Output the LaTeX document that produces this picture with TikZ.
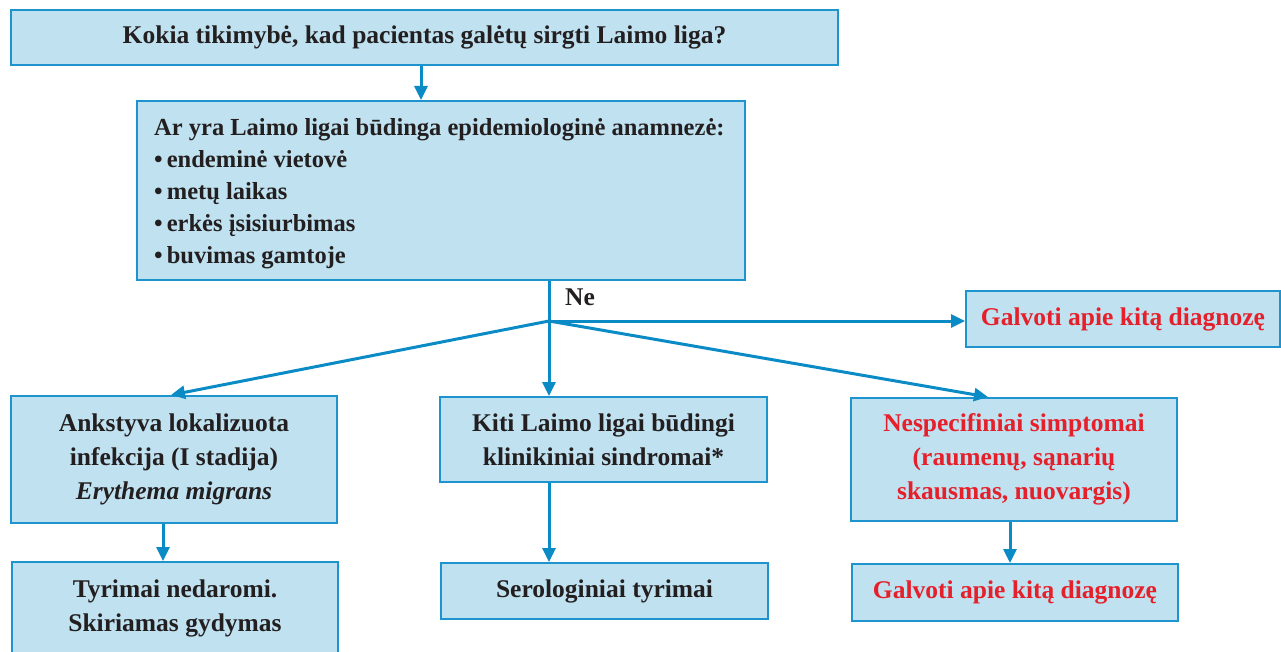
\documentclass[tikz,border=0pt]{standalone}
\usepackage{fontspec}
\setmainfont{Liberation Serif}
\usetikzlibrary{arrows.meta,calc}
\definecolor{boxfill}{HTML}{BFE1F0}
\definecolor{boxline}{HTML}{1E94CF}
\definecolor{arrowc}{HTML}{0B8BC5}
\definecolor{txt}{HTML}{231F20}
\definecolor{redtxt}{HTML}{E5202A}
\begin{document}
\begin{tikzpicture}[x=1pt,y=-1pt,
  box/.style={draw=boxline,fill=boxfill,line width=2pt,inner sep=0pt,
    font=\fontsize{25.5}{34}\selectfont\bfseries,text=txt,align=center},
  redbox/.style={box,text=redtxt},
  lbl/.style={font=\fontsize{24.5}{32}\selectfont\bfseries,text=txt,inner sep=0pt},
  arr/.style={draw=arrowc,line width=3pt,-{Triangle[length=14pt,width=13pt]}},
  plain/.style={draw=arrowc,line width=3pt}]
\useasboundingbox (0,0) rectangle (1281,652);

\node[box,minimum width=827pt,minimum height=55pt] (top) at (424.5,37.5)
  {Kokia tikimybė, kad pacientas galėtų sirgti Laimo liga?};
\node[box,minimum width=608pt,minimum height=179pt] (ask) at (441,190.5) {};
\node[lbl,anchor=west,align=left] (asktext) at ($(ask.west)+(18,3)$)
  {Ar yra Laimo ligai būdinga epidemiologinė anamnezė:\\
   •\,endeminė vietovė\\
   •\,metų laikas\\
   •\,erkės įsisiurbimas\\
   •\,buvimas gamtoje};
\node[redbox,minimum width=314pt,minimum height=56pt] (tr) at (1123,319)
  {Galvoti apie kitą diagnozę};
\node[box,minimum width=326pt,minimum height=127pt] (left) at (174,459.5)
  {Ankstyva lokalizuota\\ infekcija (I stadija)\\ {\itshape Erythema migrans}};
\node[box,minimum width=327pt,minimum height=85pt] (mid) at (603.5,439.5)
  {Kiti Laimo ligai būdingi\\ klinikiniai sindromai*};
\node[redbox,minimum width=326pt,minimum height=123pt] (right) at (1014,459.5)
  {Nespecifiniai simptomai\\ (raumenų, sąnarių\\ skausmas, nuovargis)};
\node[box,minimum width=326pt,minimum height=92pt] (bl) at (175,608)
  {Tyrimai nedaromi.\\ Skiriamas gydymas};
\node[box,minimum width=327pt,minimum height=56pt] (bm) at (604.5,591)
  {Serologiniai tyrimai};
\node[redbox,minimum width=326pt,minimum height=57pt] (br) at (1015,592.5)
  {Galvoti apie kitą diagnozę};

\node[lbl,anchor=west,font=\fontsize{25.5}{32}\selectfont\bfseries] (ne) at (565,297) {Ne};

\coordinate (j) at (549,321);
\draw[arr] ($(top.south)+(-3.5,0)$) -- ($(ask.north)+(-20,0)$);
\draw[plain] ($(ask.south)+(108,0)$) -- (j);
\draw[arr] (j) -- (tr.west |- j);
\draw[arr] (j) -- ($(left.north)+(-3,0)$);
\draw[arr] (j) -- (mid.north -| j);
\draw[arr] (j) -- ($(right.north)+(-26,0)$);
\draw[arr] ($(left.south)+(-11,0)$) -- ($(bl.north)+(-12,0)$);
\draw[arr] (mid.south -| j) -- (bm.north -| j);
\draw[arr] ($(right.south)+(-4,0)$) -- ($(br.north)+(-5,0)$);
\end{tikzpicture}
\end{document}
